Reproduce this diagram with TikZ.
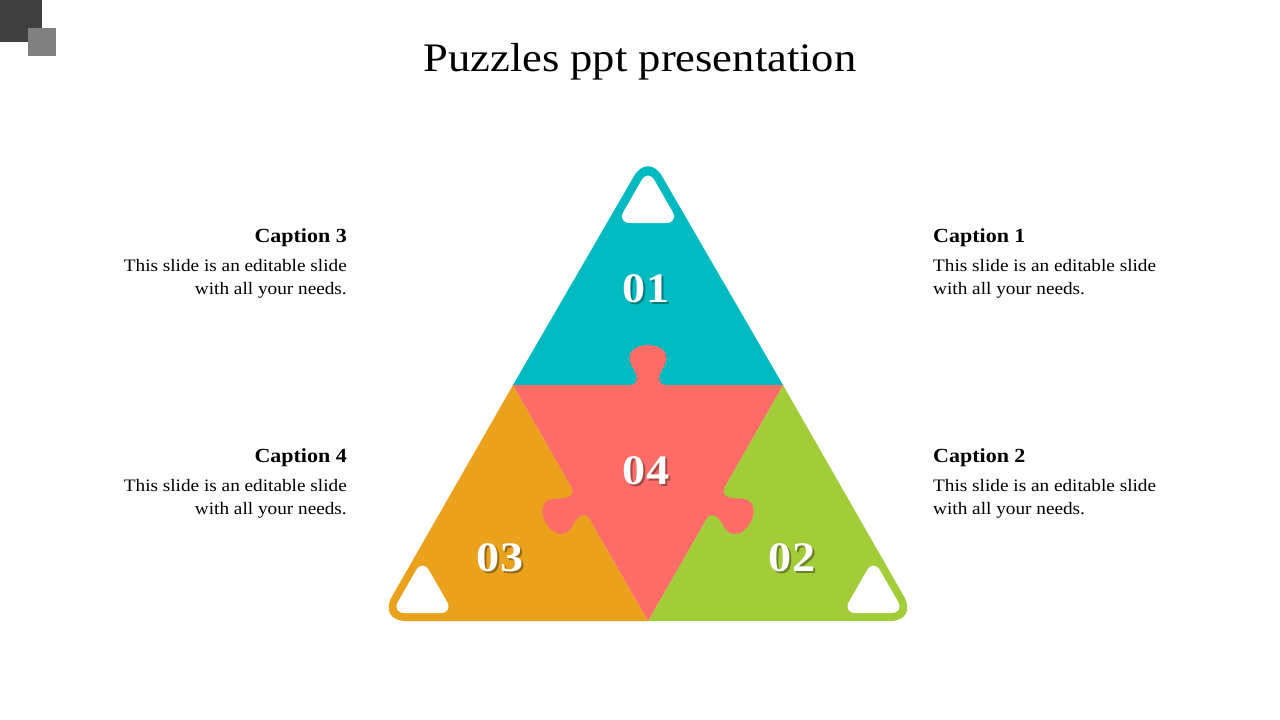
\documentclass[tikz,border=0pt]{standalone}
\usepackage{fontspec}
\setmainfont{Liberation Serif}[FakeStretch=1.1]
\definecolor{pteal}{RGB}{0,186,194}
\definecolor{pred}{RGB}{253,108,103}
\definecolor{porange}{RGB}{234,162,29}
\definecolor{pgreen}{RGB}{163,204,57}
\definecolor{sqdark}{RGB}{64,64,64}
\definecolor{sqlight}{RGB}{128,128,128}
\tikzset{
  ptab/.pic={
    \fill[pred] (-18pt,-3pt) -- (-18pt,0pt)
      .. controls (-12pt,0pt) and (-10pt,5pt) .. (-12pt,11pt)
      .. controls (-14pt,16pt) and (-18.5pt,21pt) .. (-18.5pt,27pt)
      .. controls (-18.5pt,35pt) and (-10pt,40pt) .. (0pt,40pt)
      .. controls (10pt,40pt) and (18.5pt,35pt) .. (18.5pt,27pt)
      .. controls (18.5pt,21pt) and (14pt,16pt) .. (12pt,11pt)
      .. controls (10pt,5pt) and (12pt,0pt) .. (18pt,0pt)
      -- (18pt,-3pt) -- cycle;
  },
  numtxt/.style={text=white,font=\bfseries\fontsize{42}{42}\selectfont,inner sep=0pt},
  numshadow/.style={text=black,opacity=0.35,font=\bfseries\fontsize{42}{42}\selectfont,inner sep=0pt},
  captitle/.style={font=\bfseries\fontsize{20}{22}\selectfont,inner sep=0pt},
  capbody/.style={font=\fontsize{17.5}{23}\selectfont,inner sep=0pt},
  titletxt/.style={font=\fontsize{40.5}{48}\selectfont,inner sep=0pt},
  hole/.style={fill=white,rounded corners=13pt}
}
\begin{document}
\begin{tikzpicture}[x=1pt,y=-1pt]
\useasboundingbox (0,0) rectangle (1280,720);
\fill[white] (0,0) rectangle (1280,720);
% corner squares
\fill[sqdark] (0,0) rectangle (42,42);
\fill[sqlight] (28,28) rectangle (56,56);
% title
\node[titletxt] (title) at (640,62) {Puzzles ppt presentation};
% outer pieces
\fill[pteal] (513,385) [rounded corners=28pt] -- (648,152) [sharp corners] -- (783,385) -- cycle;
\fill[porange] (513,385) [rounded corners=28pt] -- (378,621) [sharp corners] -- (648,621) -- cycle;
\fill[pgreen] (783,385) [rounded corners=28pt] -- (918,621) [sharp corners] -- (648,621) -- cycle;
% center piece
\fill[pred] (513,385) -- (783,385) -- (648,621) -- cycle;
\pic at (648,385) {ptab};
\pic[rotate=120] at (580.5,503) {ptab};
\pic[rotate=-120] at (715.5,503) {ptab};
% white holes
\fill[hole] (648,223) -- (679,223) -- (648,169) -- (617,223) -- cycle;
\fill[hole] (422.5,613) -- (453.5,613) -- (422.5,559) -- (391.5,613) -- cycle;
\fill[hole] (873.5,613) -- (904.5,613) -- (873.5,559) -- (842.5,613) -- cycle;
% numbers
\node[numshadow] (s01) at (648,291) {01};
\node[numtxt] (n01) at (646,289) {01};
\node[numshadow] (s04) at (648,473) {04};
\node[numtxt] (n04) at (646,471) {04};
\node[numshadow] (s03) at (502,560) {03};
\node[numtxt] (n03) at (500,558) {03};
\node[numshadow] (s02) at (794,560) {02};
\node[numtxt] (n02) at (792,558) {02};
% captions right
\node[captitle,anchor=base west] (c1t) at (933,242) {Caption 1};
\node[capbody,anchor=base west] (c1a) at (933,271.5) {This slide is an editable slide};
\node[capbody,anchor=base west] (c1b) at (933,294.5) {with all your needs.};
\node[captitle,anchor=base west] (c2t) at (933,462) {Caption 2};
\node[capbody,anchor=base west] (c2a) at (933,491.5) {This slide is an editable slide};
\node[capbody,anchor=base west] (c2b) at (933,514.5) {with all your needs.};
% captions left
\node[captitle,anchor=base east] (c3t) at (347,242) {Caption 3};
\node[capbody,anchor=base east] (c3a) at (347,271.5) {This slide is an editable slide};
\node[capbody,anchor=base east] (c3b) at (347,294.5) {with all your needs.};
\node[captitle,anchor=base east] (c4t) at (347,462) {Caption 4};
\node[capbody,anchor=base east] (c4a) at (347,491.5) {This slide is an editable slide};
\node[capbody,anchor=base east] (c4b) at (347,514.5) {with all your needs.};
\end{tikzpicture}
\end{document}
